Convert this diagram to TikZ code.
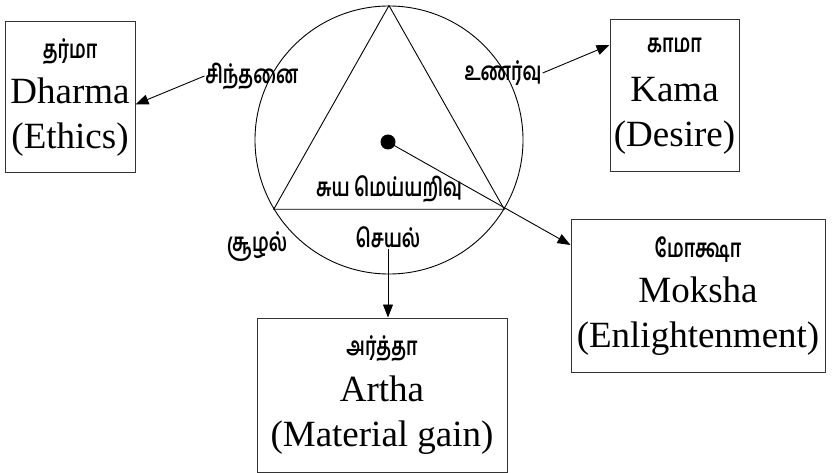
\documentclass[tikz,border=0pt]{standalone}
\usepackage{fontspec}
\setmainfont{Liberation Serif}
\newfontfamily\tamil[Script=Tamil,FakeStretch=0.72]{Hind Madurai}
\usetikzlibrary{arrows.meta}
\begin{document}
\begin{tikzpicture}[x=1pt,y=-1pt,
  box/.style={draw=black!80,line width=1pt,align=center,inner sep=0pt,
    font=\fontsize{37}{45}\selectfont},
  tfont/.style={font=\tamil\bfseries\fontsize{25.5}{28}\selectfont},
  tlab/.style={tfont,inner sep=1pt},
  conn/.style={line width=0.9pt,-{Triangle[length=13pt,width=10pt]}},
  thin/.style={line width=0.9pt}]
\useasboundingbox (0,0) rectangle (835,473);
% circle and triangle
\node[draw,thin,circle,minimum size=268pt,inner sep=0pt] (c) at (389,140) {};
\draw[thin] (c.90) -- (c.211.5) -- (c.-31.5) -- cycle;
\node[circle,fill=black,minimum size=15pt,inner sep=0pt] (dot) at (388,142) {};
% labels
\node[tlab] (chin) at (252,76) {சிந்தனை};
\node[tlab] (unar) at (503,73) {உணர்வு};
\node[tlab] (suya) at (389,189) {சுய மெய்யறிவு};
\node[tlab] (seyal) at (388,237) {செயல்};
\node[tlab] (sool) at (257,247) {சூழல்};
% boxes
\node[box,minimum width=130pt,minimum height=151pt] (dharma) at (70,97.5)
  {{\tamil\bfseries\fontsize{25.5}{28}\selectfont தர்மா}\\[0pt]Dharma\\(Ethics)};
\node[box,minimum width=129pt,minimum height=152pt] (kama) at (674.5,96)
  {{\tamil\bfseries\fontsize{25.5}{28}\selectfont காமா}\\[4pt]Kama\\(Desire)};
\node[box,minimum width=254pt,minimum height=152pt] (moksha) at (698,296)
  {{\tamil\bfseries\fontsize{25.5}{28}\selectfont மோக்ஷா}\\[0pt]Moksha\\(Enlightenment)};
\node[box,minimum width=250pt,minimum height=154pt] (artha) at (382,395)
  {{\tamil\bfseries\fontsize{25.5}{28}\selectfont அர்த்தா}\\[1pt]Artha\\(Material gain)};
% connectors
\draw[conn] (chin.west) -- ([yshift=-7pt]dharma.east);
\draw[conn] (unar.east) -- ([yshift=51pt]kama.west);
\draw[conn] (dot.center) -- ([yshift=51pt]moksha.west);
\draw[conn] (seyal.south) -- (seyal.south |- artha.north);
\end{tikzpicture}
\end{document}
